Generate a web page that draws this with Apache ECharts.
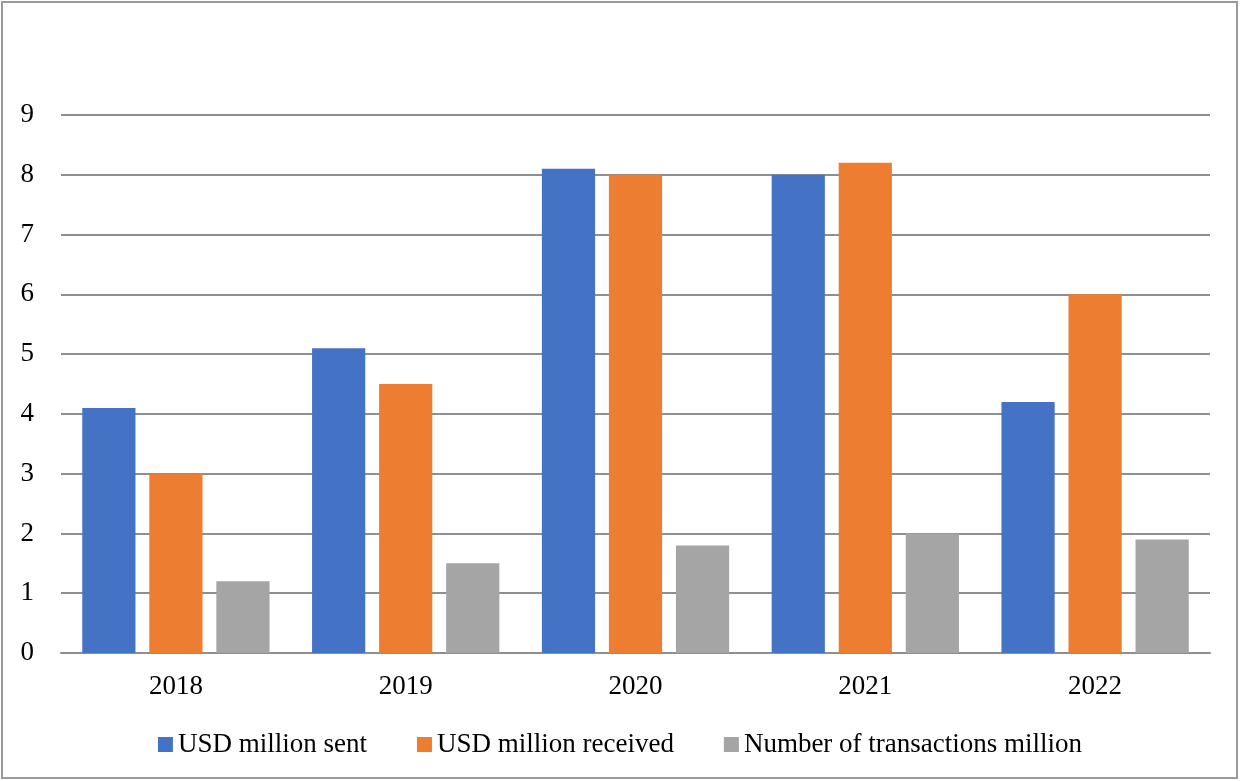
<!DOCTYPE html>
<html>
<head>
<meta charset="utf-8">
<script src="https://cdn.jsdelivr.net/npm/echarts@6/dist/echarts.min.js"></script>
<style>
html, body { margin: 0; padding: 0; background: #fff; }
#main { width: 1240px; height: 781px; }
</style>
</head>
<body>
<div id="main"></div>
<script>
var years = ['2018', '2019', '2020', '2021', '2022'];
var sent = [4.1, 5.1, 8.1, 8.0, 4.2];
var received = [3.0, 4.5, 8.0, 8.2, 6.0];
var transactions = [1.2, 1.5, 1.8, 2.0, 1.9];

var font = '"Liberation Serif", "DejaVu Serif", serif';
var myChart = echarts.init(document.getElementById('main'));
var option = {
    animation: false,
    backgroundColor: '#fff',
    textStyle: { fontFamily: font },
    graphic: [{
        type: 'rect',
        shape: { x: 2, y: 2, width: 1235, height: 776 },
        style: { fill: 'none', stroke: '#9a9a9a', lineWidth: 2 }
    }],
    grid: { left: 61, right: 30, top: 115, bottom: 128 },
    legend: {
        top: 726,
        left: 'center',
        icon: 'rect',
        itemWidth: 15,
        itemHeight: 15,
        itemGap: 50,
        textStyle: { fontFamily: font, fontSize: 27, color: '#000' },
        data: ['USD million sent', 'USD million received', 'Number of transactions million']
    },
    xAxis: {
        type: 'category',
        data: years,
        axisTick: { show: false },
        axisLine: { lineStyle: { color: '#8f8f8f', width: 2 } },
        axisLabel: { fontFamily: font, fontSize: 27, color: '#000', margin: 20 }
    },
    yAxis: {
        type: 'value',
        min: 0,
        max: 9,
        interval: 1,
        axisLine: { show: false },
        axisTick: { show: false },
        splitLine: { lineStyle: { color: '#8f8f8f', width: 2 } },
        axisLabel: { fontFamily: font, fontSize: 27, color: '#000', margin: 27 }
    },
    series: [{
        name: 'USD million sent',
        type: 'bar',
        data: sent,
        barGap: '26%',
        barCategoryGap: '18.5%',
        itemStyle: { color: '#4472C4' }
    }, {
        name: 'USD million received',
        type: 'bar',
        data: received,
        itemStyle: { color: '#ED7D31' }
    }, {
        name: 'Number of transactions million',
        type: 'bar',
        data: transactions,
        itemStyle: { color: '#A5A5A5' }
    }]
};
myChart.setOption(option);
</script>
</body>
</html>
